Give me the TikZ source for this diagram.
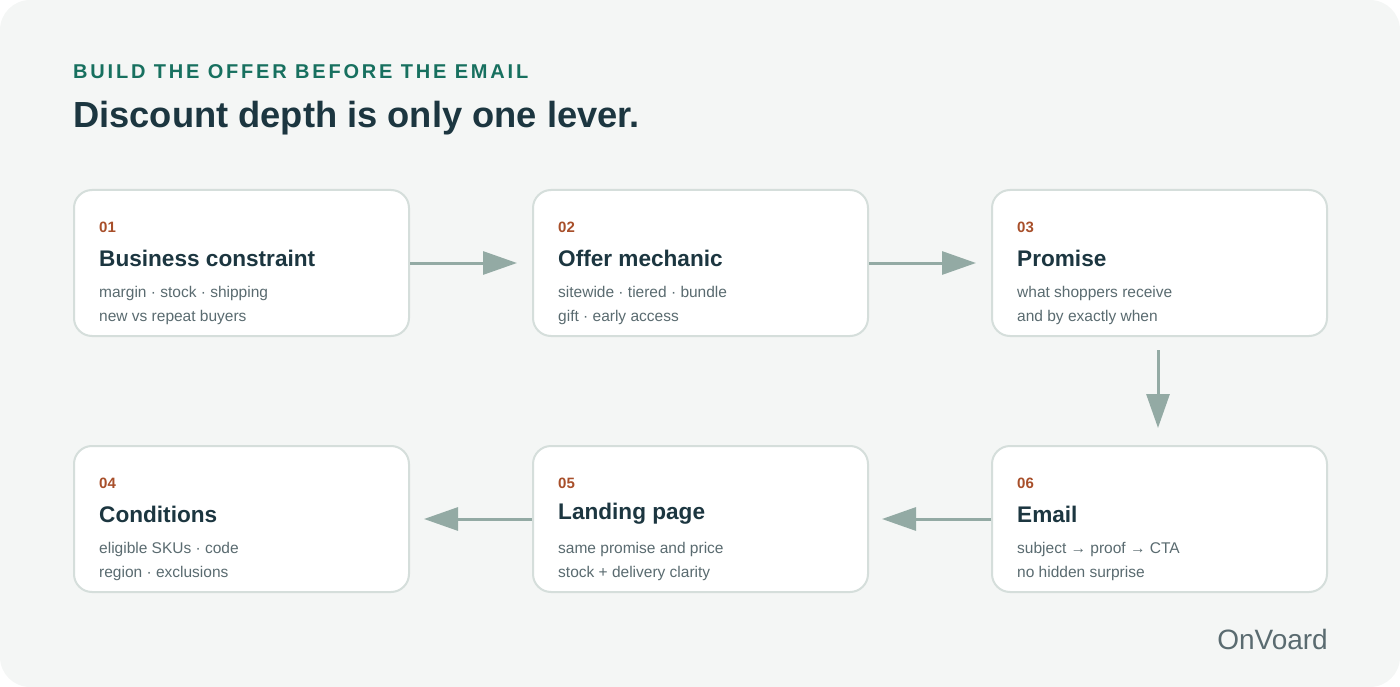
\documentclass[tikz,border=0pt]{standalone}
\usepackage{fontspec}
\setmainfont{Liberation Sans}
\usetikzlibrary{arrows.meta,positioning}
\definecolor{bgpanel}{HTML}{F4F6F5}
\definecolor{boxline}{HTML}{D5DEDB}
\definecolor{arrowc}{HTML}{93AAA4}
\definecolor{numc}{HTML}{A84F2A}
\definecolor{titlec}{HTML}{1C3640}
\definecolor{subc}{HTML}{5A6B70}
\definecolor{kickc}{HTML}{17705F}
\tikzset{
  stepcard/.style={draw=boxline,line width=2pt,fill=white,rounded corners=18pt,
    minimum width=335pt,minimum height=146pt,inner sep=0pt},
  numlabel/.style={anchor=west,inner sep=0pt,text=numc,font=\fontsize{15}{18}\selectfont\bfseries},
  headline/.style={anchor=west,inner sep=0pt,text=titlec,font=\fontsize{22.6}{26}\selectfont\bfseries},
  subline/.style={anchor=west,inner sep=0pt,text=subc,font=\fontsize{15.5}{24}\selectfont,align=left},
  flow/.style={draw=arrowc,line width=3pt,-{Triangle[length=34pt,width=23pt]}}
}
\newcommand{\stepbox}[6]{%
  \node[stepcard,anchor=north west] (#1) at (#2) {};
  \node[numlabel] (#1n) at ([xshift=26pt,yshift=-38pt]#1.north west) {#3};
  \node[headline] (#1h) at ([xshift=26pt,yshift=-69pt]#1.north west) {#4};
  \node[subline,anchor=north west] (#1s) at ([xshift=26pt,yshift=-97pt]#1.north west) {#5\\#6};
}
\begin{document}
\begin{tikzpicture}[x=1pt,y=-1pt]
\useasboundingbox (0,0) rectangle (1400,687);
\fill[bgpanel] (0,0) [rounded corners=30pt] rectangle (1400,687);
\node[anchor=west,inner sep=0pt,text=kickc,font=\fontsize{20}{22}\selectfont\bfseries\addfontfeatures{LetterSpace=14}] (kicker) at (73,71.5) {BUILD THE OFFER BEFORE THE EMAIL};
\node[anchor=west,inner sep=0pt,text=titlec,font=\fontsize{36.3}{40}\selectfont\bfseries] (title) at (73,118) {Discount depth is only one lever.};
% top row
\stepbox{constraint}{73,189}{01}{Business constraint}{margin · stock · shipping}{new vs repeat buyers}
\stepbox{mechanic}{532,189}{02}{Offer mechanic}{sitewide · tiered · bundle}{gift · early access}
\stepbox{promise}{991,189}{03}{Promise}{what shoppers receive}{and by exactly when}
% bottom row
\stepbox{conditions}{73,445}{04}{Conditions}{eligible SKUs · code}{region · exclusions}
\stepbox{landing}{532,445}{05}{Landing page}{same promise and price}{stock + delivery clarity}
\stepbox{email}{991,445}{06}{Email}{subject → proof → CTA}{no hidden surprise}
\coordinate (a1) at (517,0);
\coordinate (a2) at (976,0);
\coordinate (a3s) at (1158,350);
\coordinate (a3) at (1158,428);
\coordinate (a4) at (424,0);
\coordinate (a5) at (882,0);
\draw[flow] (constraint.east) -- (a1 |- constraint.east);
\draw[flow] (mechanic.east) -- (a2 |- mechanic.east);
\draw[flow] (a3s) -- (a3);
\draw[flow] (email.west) -- (a5 |- email.west);
\draw[flow] (landing.west) -- (a4 |- landing.west);
\node[anchor=east,inner sep=0pt,text=subc,font=\fontsize{28}{32}\selectfont] (brand) at (1328,639) {OnVoard};
\end{tikzpicture}
\end{document}
